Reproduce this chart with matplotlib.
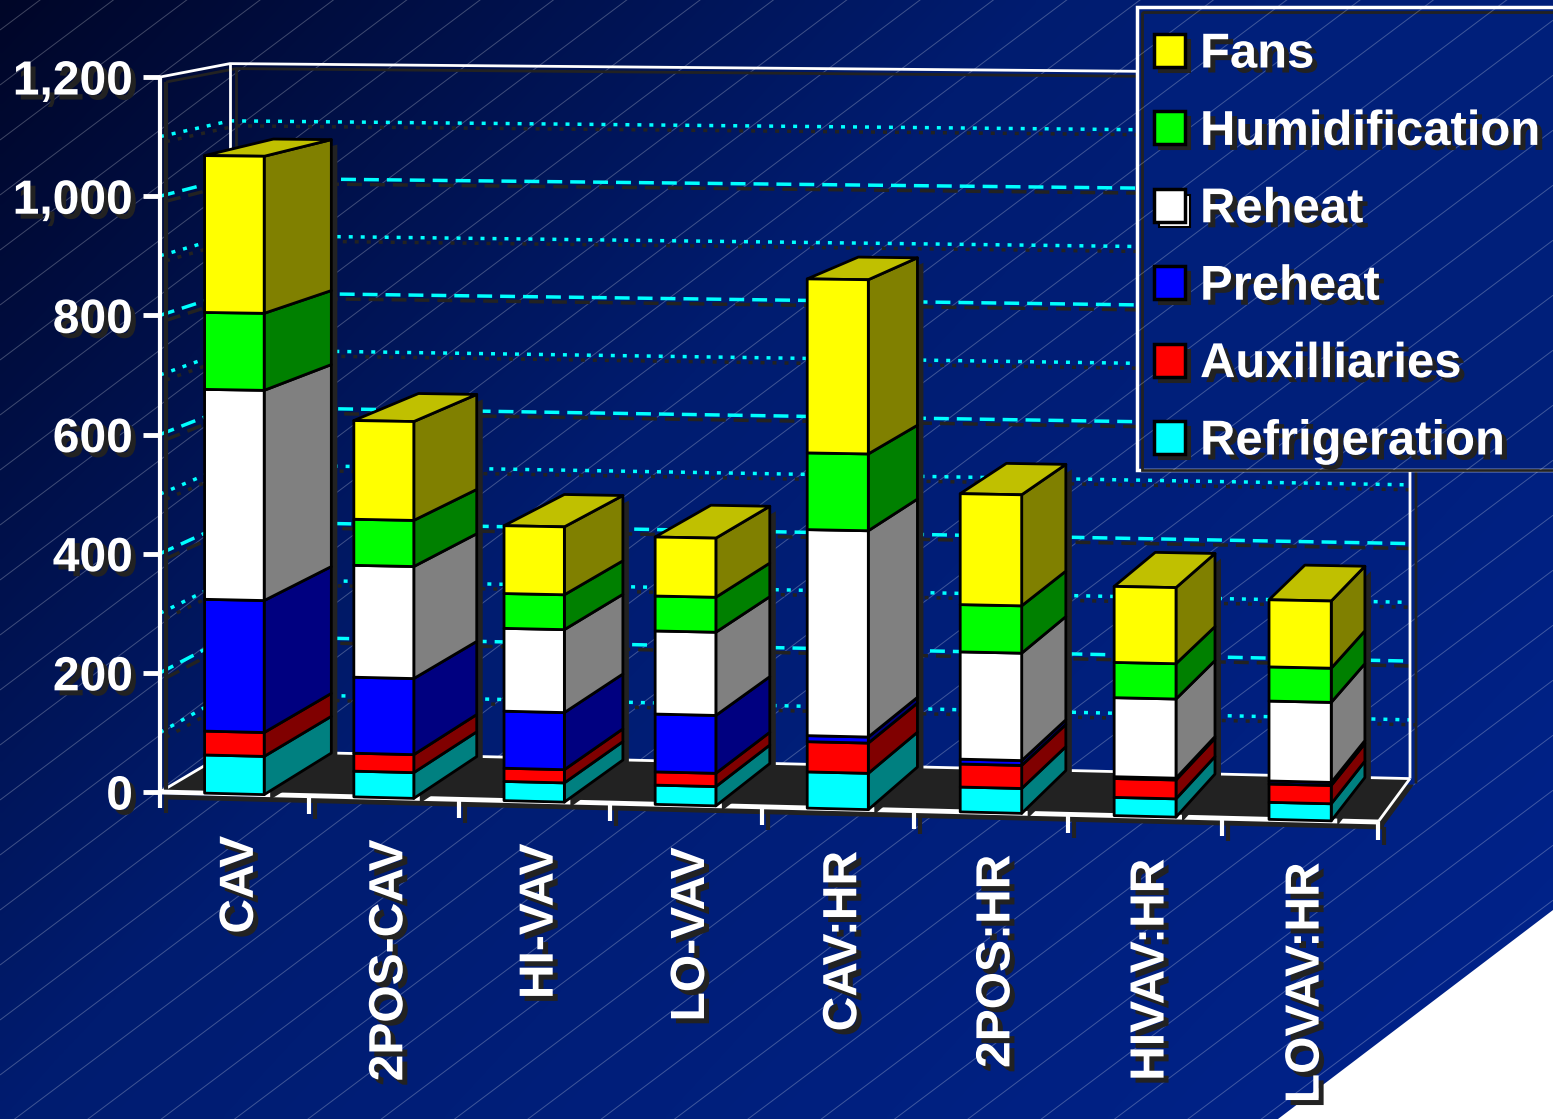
import numpy as np
import matplotlib
matplotlib.use('Agg')
import matplotlib.pyplot as plt
import matplotlib.patheffects as pe
from matplotlib.collections import LineCollection
from matplotlib.patches import Polygon, Rectangle

# Values
systems = ['CAV', '2POS-CAV', 'HI-VAV', 'LO-VAV', 'CAV:HR', '2POS:HR', 'HIVAV:HR', 'LOVAV:HR']
refrigeration = [64, 43, 32, 32, 60, 41, 30, 28]
auxilliaries = [40, 30, 22, 22, 50, 38, 31, 30]
preheat = [221, 127, 95, 96, 10, 8, 3, 5]
reheat = [352, 187, 138, 138, 341, 177, 130, 131]
humidification = [129, 77, 58, 58, 127, 78, 58, 56]
fans = [263, 165, 113, 98, 288, 183, 125, 110]

# bottom to top: name, values, front colour, side colour
series = [
    ('Refrigeration', refrigeration, '#00ffff', '#008080'),
    ('Auxilliaries', auxilliaries, '#ff0000', '#800000'),
    ('Preheat', preheat, '#0000ff', '#000080'),
    ('Reheat', reheat, '#ffffff', '#808080'),
    ('Humidification', humidification, '#00ff00', '#008000'),
    ('Fans', fans, '#ffff00', '#808000'),
]
y_ticks = [0, 200, 400, 600, 800, 1000, 1200]
minor_ticks = [100, 300, 500, 700, 900, 1100]

W, H = 1553, 1119
SHADOW = '#222222'
CYAN = '#00ffff'


def project(c, v, t):
    # category position, value and depth (0 front, 1 back) to picture pixels
    u = c / len(systems)
    xf, yf, sf = 160 + 1218 * u - 30 * u * (1 - u), 792 + 30 * u, 0.5958 * (1 + 0.026 * u)
    xb, yb, sb = 230 + 1180 * u - 24 * u * (1 - u), 750.6 + 28 * u, 0.5725 * (1 + 0.0262 * u)
    return (xf + (xb - xf) * t, (yf - sf * v) + ((yb - sb * v) - (yf - sf * v)) * t)


def shifted(points, dx=6, dy=5):
    return [(x + dx, y + dy) for x, y in points]


def face(points, color, z, lw=2.0):
    ax.add_patch(Polygon(points, closed=True, facecolor=color, edgecolor='black',
                         linewidth=lw, joinstyle='round', zorder=z))


def line(points, z, color='white', lw=2.5, ls='-', shadow=True):
    xs, ys = zip(*points)
    if shadow:
        sx, sy = zip(*shifted(points))
        ax.plot(sx, sy, color=SHADOW, lw=lw, ls=ls, zorder=z - 0.5, solid_capstyle='butt')
    ax.plot(xs, ys, color=color, lw=lw, ls=ls, zorder=z, solid_capstyle='butt')


def label(x, y, text, size, **kw):
    ax.text(x, y, text, color='white', fontsize=size * 72 / 100, fontweight='bold',
            family='Liberation Sans', zorder=30,
            path_effects=[pe.SimplePatchShadow(offset=(3.6, -3.6), shadow_rgbFace=SHADOW, alpha=1),
                          pe.Normal()], **kw)


fig = plt.figure(figsize=(W / 100, H / 100), dpi=100)
ax = fig.add_axes([0, 0, 1, 1])
ax.set_xlim(0, W)
ax.set_ylim(H, 0)
ax.axis('off')

# Background gradient, hatching and the white corner
gx, gy = np.meshgrid(np.linspace(0, 1, 300), np.linspace(0, 1, 220))
g = 0.6 * gx + 0.4 * gy
rgb = np.dstack([np.zeros_like(g),
                 np.interp(g, [0, 0.4, 1], [6, 28, 35]) / 255,
                 np.interp(g, [0, 0.4, 1], [40, 112, 140]) / 255])
ax.imshow(rgb, extent=[0, W, H, 0], aspect='auto', zorder=0, interpolation='bilinear')
ax.set_xlim(0, W)
ax.set_ylim(H, 0)
hatch = [[(0, y0), (W, y0 - 0.75 * W)] for y0 in np.arange(30, 2400, 55)]
ax.add_collection(LineCollection(hatch, colors=[(1, 1, 1, 0.25)], linewidths=0.7, zorder=1))
ax.add_patch(Polygon([(W, 910), (W, H), (1278, H)], closed=True, facecolor='white', edgecolor='none', zorder=2))

# Floor
n = len(systems)
floor = [project(0, 0, 0), project(n, 0, 0), project(n, 0, 1), project(0, 0, 1)]
ax.add_patch(Polygon(shifted(floor[:2] + floor[2:3], 4, 6), closed=True, facecolor=SHADOW, zorder=3))
ax.add_patch(Polygon(floor, closed=True, facecolor=SHADOW, edgecolor='none', zorder=3.2))

# Gridlines
for v in y_ticks[1:-1]:
    pts = [project(0, v, 0), project(0, v, 1), project(n, v, 1)]
    line(pts, 4, color=CYAN, lw=2.5, ls=(0, (4.3, 2.3)))
for v in minor_ticks:
    pts = [project(0, v, 0), project(0, v, 1), project(n, v, 1)]
    line(pts, 4, color=CYAN, lw=2.5, ls=(0, (1.15, 2.3)))

# Walls and axes
top_v = y_ticks[-1]
line([project(0, top_v, 0), project(0, top_v, 1), project(n, top_v, 1), project(n, 0, 1)], 5, lw=2)
line([project(0, top_v, 1), project(0, 0, 1)], 5, lw=2)
line([project(0, 0, 0), project(0, 0, 1), project(n, 0, 1)], 5, lw=2, shadow=False)
line([project(n, 0, 0), project(n, 0, 1)], 5, lw=2, shadow=False)
line([project(0, top_v, 0), (project(0, 0, 0)[0], project(0, 0, 0)[1] + 16)], 6, lw=3)
line([project(0, 0, 0), project(n, 0, 0)], 6, lw=3.5)
for v in y_ticks:
    x, y = project(0, v, 0)
    line([(x - 17, y), (x, y)], 6, lw=3.5, shadow=False)
    label(x - 27, y + 5, f'{v:,}', 48, ha='right', va='center')
for i in range(1, n + 1):
    x, y = project(i, 0, 0)
    line([(x, y), (x, y + 18)], 6, lw=3)

# Bars
for i, name in enumerate(systems):
    c0, c1 = i + 0.3, i + 0.7
    z = 7 + i
    vals = np.cumsum([s[1][i] for s in series])
    total = vals[-1]
    outline = [project(c1, 0, 0), project(c1, total, 0), project(c1, total, 1), project(c1, 0, 1)]
    ax.add_patch(Polygon(shifted(outline), closed=True, facecolor=SHADOW, edgecolor='none', zorder=z))
    base = 0
    for (sname, values, front, side), top in zip(series, vals):
        face([project(c1, base, 0), project(c1, top, 0), project(c1, top, 1), project(c1, base, 1)], side, z + 0.1)
        face([project(c0, base, 0), project(c1, base, 0), project(c1, top, 0), project(c0, top, 0)], front, z + 0.2)
        base = top
    face([project(c0, total, 0), project(c1, total, 0), project(c1, total, 1), project(c0, total, 1)], '#c0c000', z + 0.1)

    x, y = project(i + 0.5, 0, 0)
    label(x + 6, y + 42, name, 48, rotation=90, ha='center', va='top')

# Legend
box = Rectangle((1137, 7), W - 1137 + 10, 463, facecolor='#001f7a', edgecolor='white', linewidth=2.5, zorder=20)
ax.add_patch(box)
ax.add_patch(Rectangle((1142, 12), W, 470 - 12, facecolor='none', edgecolor=SHADOW, linewidth=2, zorder=20.1,
                       clip_path=box))
legend_hatch = LineCollection(hatch, colors=[(1, 1, 1, 0.25)], linewidths=0.7, zorder=20.2)
ax.add_collection(legend_hatch)
legend_hatch.set_clip_path(box)
for k, (sname, values, front, side) in enumerate(reversed(series)):
    y = 51 + 77.4 * k
    shade = 'white' if front == '#ffffff' else SHADOW
    ax.add_patch(Rectangle((1159, y - 11), 31, 32, facecolor=shade, edgecolor='black' if front == '#ffffff' else SHADOW,
                           linewidth=1.5, zorder=21))
    ax.add_patch(Rectangle((1154, y - 17), 31, 33, facecolor=front, edgecolor='black', linewidth=2.5, zorder=22))
    label(1200, y + 4, sname, 49, ha='left', va='center')

fig.savefig('out.png', dpi=100)
